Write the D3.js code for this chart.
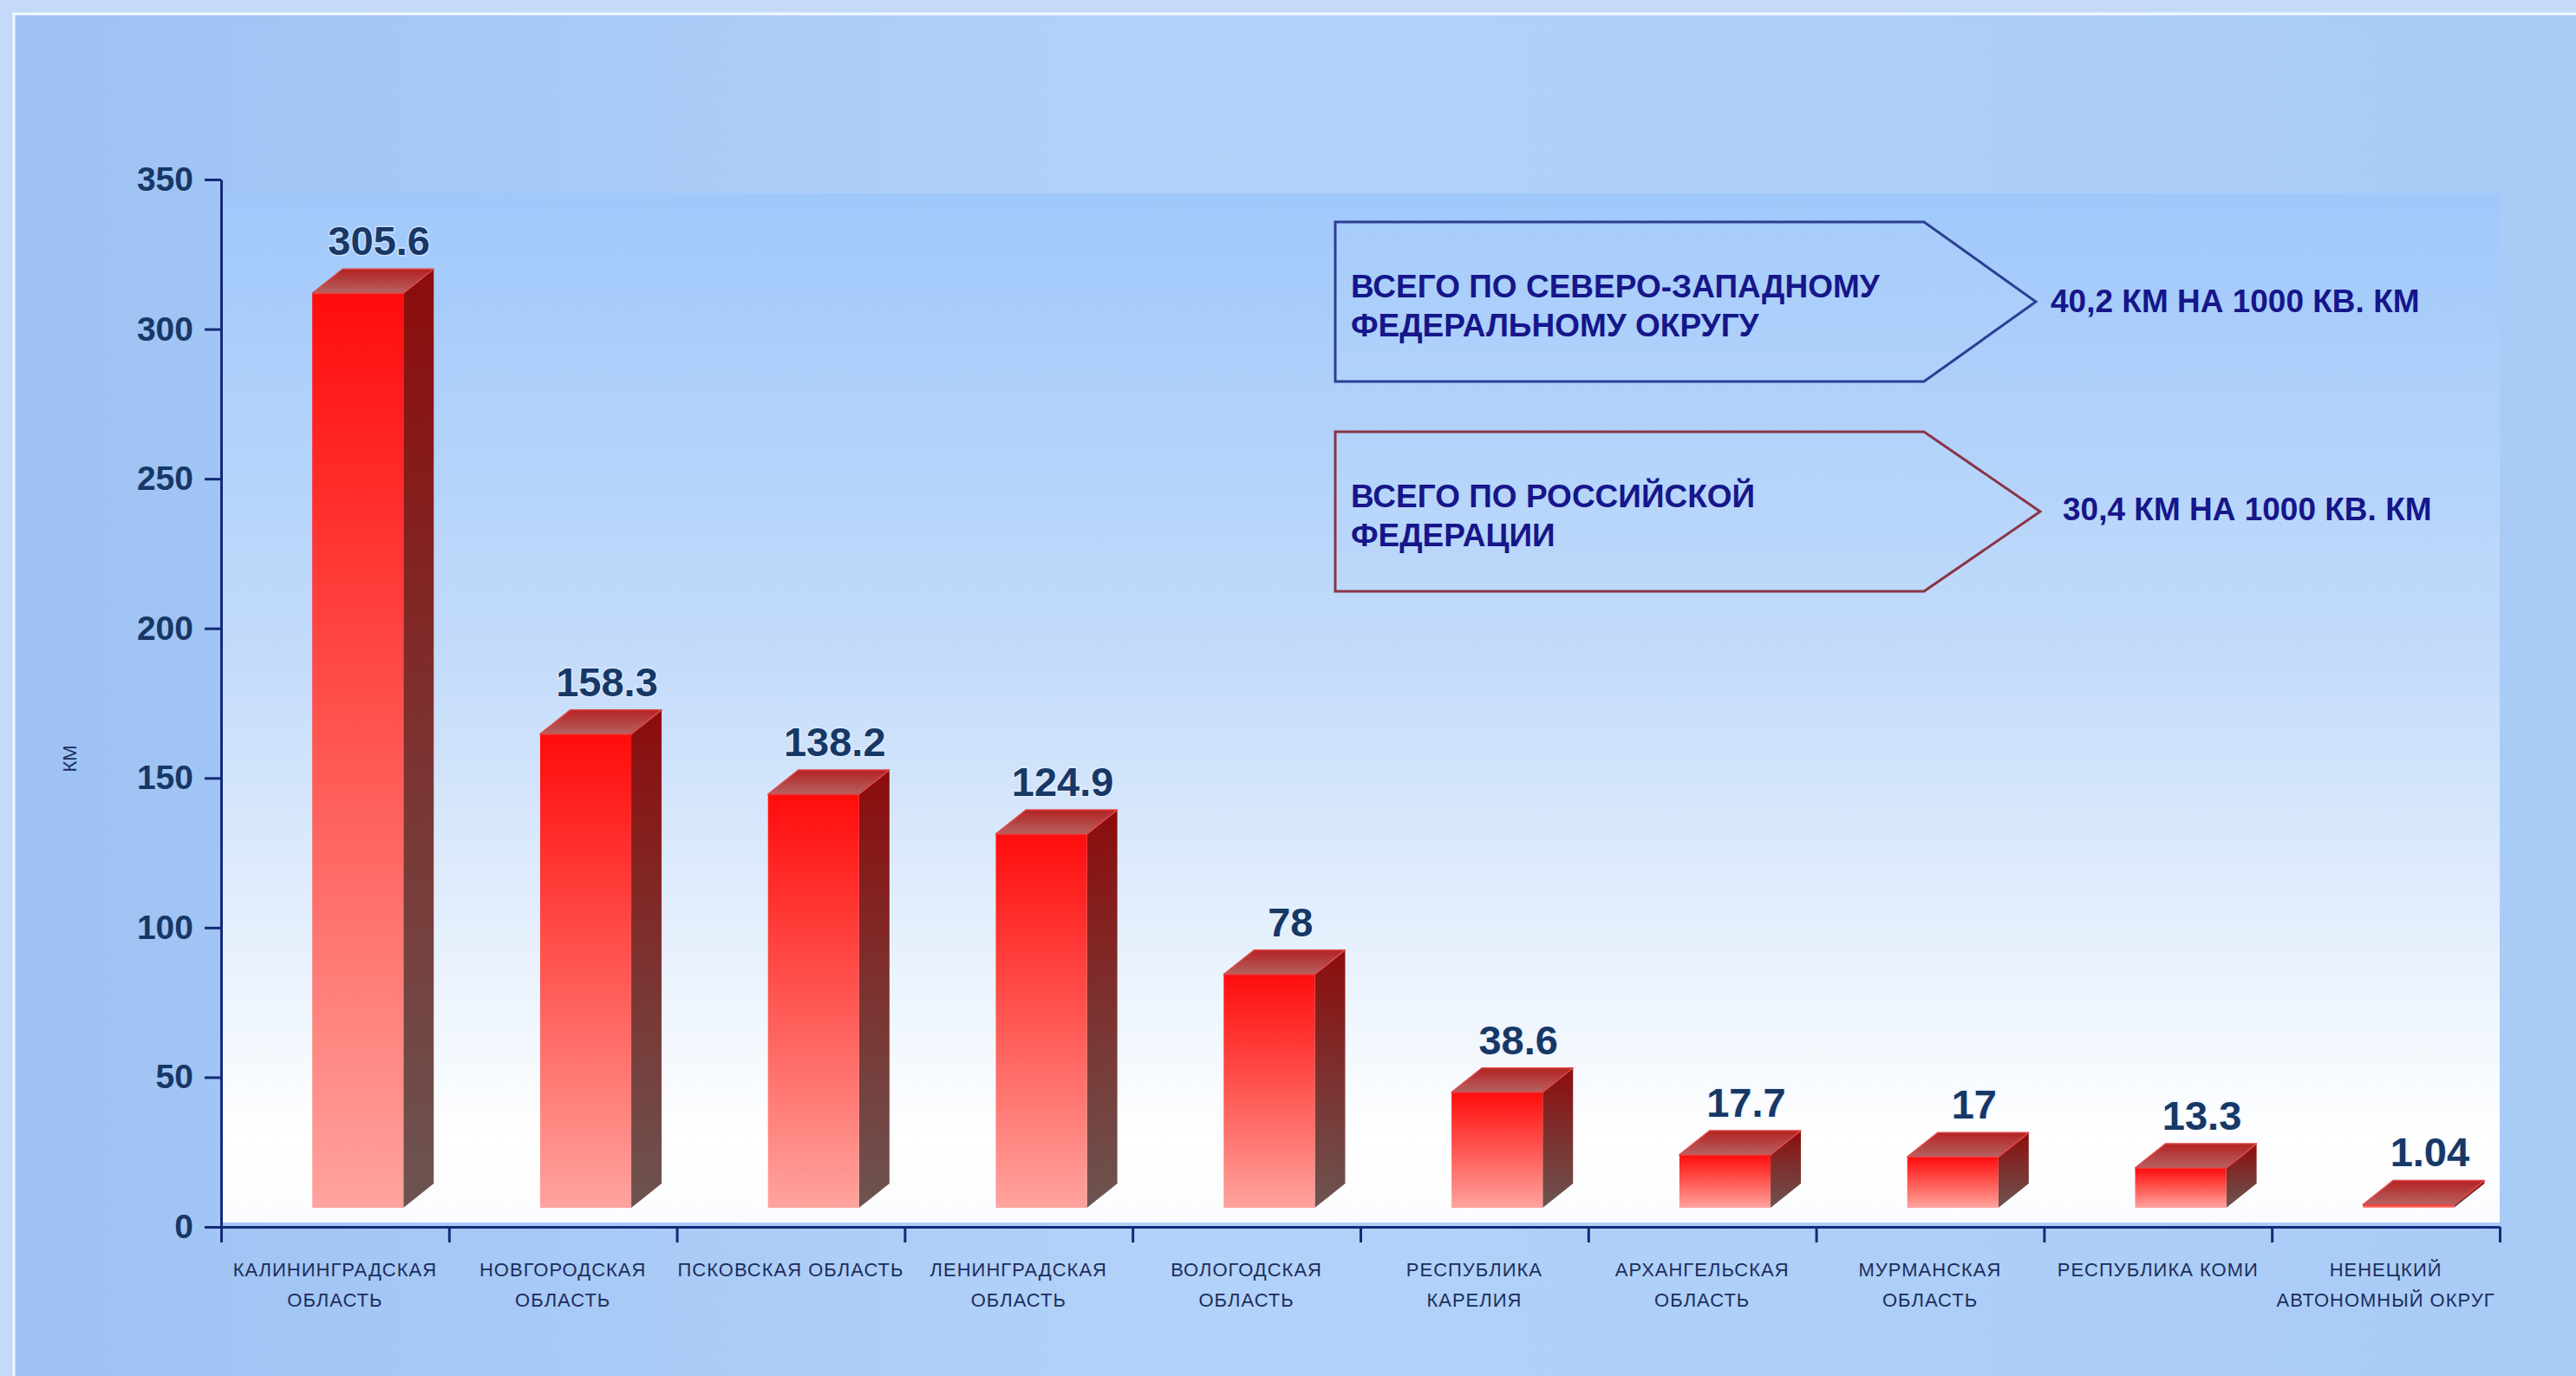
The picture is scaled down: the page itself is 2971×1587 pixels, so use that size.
<!DOCTYPE html>
<html>
<head>
<meta charset="utf-8">
<script src="https://cdn.jsdelivr.net/npm/d3@7"></script>
<style>
  html, body { margin: 0; padding: 0; background: #c4daf8; }
  svg { display: block; }
</style>
</head>
<body>
<div id="chart"></div>
<script>
// data
const categories = [
  "КАЛИНИНГРАДСКАЯ\nОБЛАСТЬ",
  "НОВГОРОДСКАЯ\nОБЛАСТЬ",
  "ПСКОВСКАЯ ОБЛАСТЬ",
  "ЛЕНИНГРАДСКАЯ\nОБЛАСТЬ",
  "ВОЛОГОДСКАЯ\nОБЛАСТЬ",
  "РЕСПУБЛИКА\nКАРЕЛИЯ",
  "АРХАНГЕЛЬСКАЯ\nОБЛАСТЬ",
  "МУРМАНСКАЯ\nОБЛАСТЬ",
  "РЕСПУБЛИКА КОМИ",
  "НЕНЕЦКИЙ\nАВТОНОМНЫЙ ОКРУГ"
];
const values = [305.6, 158.3, 138.2, 124.9, 78, 38.6, 17.7, 17, 13.3, 1.04];
const valueLabels = ["305.6", "158.3", "138.2", "124.9", "78", "38.6", "17.7", "17", "13.3", "1.04"];
const yTicks = [0, 50, 100, 150, 200, 250, 300, 350];
const yTitle = "КМ";

const noteLines = [
  ["ВСЕГО ПО СЕВЕРО-ЗАПАДНОМУ", "ФЕДЕРАЛЬНОМУ ОКРУГУ"],
  ["ВСЕГО ПО РОССИЙСКОЙ", "ФЕДЕРАЦИИ"]
];
const noteValues = ["40,2 КМ НА 1000 КВ. КМ", "30,4 КМ НА 1000 КВ. КМ"];

const WIDTH = 2971, HEIGHT = 1587;
const PLOT = { left: 255, right: 2883, top: 207, bottom: 1415 };
const DX = 35, DY = 28, LIFT = 22;   // 3d depth of bars
const NAVY = "#152a78";
const LABEL = "#173866";
const FONT = "'Liberation Sans', Arial, sans-serif";

const svg = d3.select("#chart")
  .append("svg")
  .attr("width", WIDTH)
  .attr("height", HEIGHT)
  .attr("viewBox", `0 0 ${WIDTH} ${HEIGHT}`);

const defs = svg.append("defs");

function linGrad(id, x2, y2, stops) {
  const g = defs.append("linearGradient").attr("id", id)
    .attr("x1", 0).attr("y1", 0).attr("x2", x2).attr("y2", y2);
  stops.forEach(s => g.append("stop").attr("offset", s[0]).attr("stop-color", s[1]));
}
linGrad("bgGrad", 1, 0, [[0, "#9dc2f3"], [0.45, "#b3d2f9"], [1, "#a8cbf6"]]);
linGrad("plotGrad", 0, 1, [[0, "#9fc8fb"], [0.45, "#c3dbfa"], [0.75, "#e9f2fd"], [0.92, "#ffffff"], [1, "#fbfcff"]]);
linGrad("frontGrad", 0, 1, [[0, "#ff0c0c"], [0.5, "#ff5752"], [1, "#ffa39e"]]);
linGrad("sideGrad", 0, 1, [[0, "#8c0c0c"], [0.5, "#7c3230"], [1, "#6c5450"]]);
linGrad("topGrad", 0, 1, [[0, "#b42222"], [1, "#b66262"]]);

// background
svg.append("rect").attr("width", WIDTH).attr("height", HEIGHT).attr("fill", "#c4daf8");
svg.append("rect")
  .attr("x", 16).attr("y", 16)
  .attr("width", WIDTH).attr("height", HEIGHT)
  .attr("fill", "url(#bgGrad)")
  .attr("stroke", "#f4f9ff")
  .attr("stroke-width", 3);

// scales
const x = d3.scaleBand()
  .domain(categories)
  .range([PLOT.left, PLOT.right])
  .padding(0);

const y = d3.scaleLinear()
  .domain([0, 350])
  .range([PLOT.bottom, PLOT.top]);

const xEdges = d3.scaleLinear()
  .domain([0, categories.length])
  .range([PLOT.left, PLOT.right]);

// plot area
svg.append("rect")
  .attr("x", PLOT.left)
  .attr("y", 223)
  .attr("width", PLOT.right - PLOT.left)
  .attr("height", PLOT.bottom - 5 - 223)
  .attr("fill", "url(#plotGrad)");

// bars
const bw = x.bandwidth();
const fw = bw * 0.4;
const bars = svg.append("g")
  .selectAll("g")
  .data(values)
  .join("g");

const fx = (d, i) => x(categories[i]) + bw * 0.4;
const yTop = d => y(d) - LIFT;
const yBot = y(0) - LIFT;

bars.append("polygon")
  .attr("points", (d, i) => {
    const r = fx(d, i) + fw;
    return [[r, yTop(d)], [r + DX, yTop(d) - DY], [r + DX, yBot - DY], [r, yBot]].join(" ");
  })
  .attr("fill", "url(#sideGrad)");

bars.append("rect")
  .attr("x", fx)
  .attr("y", d => yTop(d))
  .attr("width", fw)
  .attr("height", d => Math.max(0.5, yBot - yTop(d)))
  .attr("fill", "url(#frontGrad)");

bars.append("polygon")
  .attr("points", (d, i) => {
    const l = fx(d, i), t = yTop(d);
    return [[l, t], [l + DX, t - DY], [l + fw + DX, t - DY], [l + fw, t]].join(" ");
  })
  .attr("fill", "url(#topGrad)")
  .attr("stroke", "#e04848")
  .attr("stroke-width", 1.5)
  .attr("stroke-linejoin", "round");

// value labels
bars.append("text")
  .attr("x", (d, i) => fx(d, i) + fw / 2 + DX * 0.7)
  .attr("y", d => yTop(d) - DY - 16)
  .attr("text-anchor", "middle")
  .style("font-family", FONT)
  .style("font-weight", "bold")
  .style("font-size", "47px")
  .attr("fill", LABEL)
  .attr("stroke", "#e6f1ff")
  .attr("stroke-width", 3)
  .attr("stroke-opacity", 0.6)
  .attr("paint-order", "stroke")
  .text((d, i) => valueLabels[i]);

// axes
const yAxis = svg.append("g")
  .attr("transform", `translate(${PLOT.left},0)`)
  .call(d3.axisLeft(y).tickValues(yTicks).tickSize(19).tickSizeOuter(0).tickPadding(13));

const xAxis = svg.append("g")
  .attr("transform", `translate(0,${PLOT.bottom})`)
  .call(d3.axisBottom(xEdges).ticks(categories.length).tickSize(18).tickSizeOuter(0).tickFormat(""));

[yAxis, xAxis].forEach(a => {
  a.select(".domain").attr("stroke", NAVY).attr("stroke-width", 3);
  a.selectAll(".tick line").attr("stroke", NAVY).attr("stroke-width", 3);
});

yAxis.selectAll(".tick text")
  .style("font-family", FONT)
  .style("font-weight", "bold")
  .style("font-size", "39px")
  .attr("fill", LABEL);

// category labels
const catLabels = svg.append("g")
  .selectAll("text")
  .data(categories)
  .join("text")
  .attr("x", d => x(d) + bw / 2)
  .attr("y", 1472)
  .attr("text-anchor", "middle")
  .style("font-family", FONT)
  .style("font-size", "22px")
  .style("letter-spacing", "1px")
  .attr("fill", "#1c2d5c");

catLabels.selectAll("tspan")
  .data(d => d.split("\n"))
  .join("tspan")
  .attr("x", function() { return d3.select(this.parentNode).attr("x"); })
  .attr("dy", (d, i) => i === 0 ? 0 : 35)
  .text(d => d);

// y axis title
svg.append("text")
  .attr("transform", "rotate(-90)")
  .attr("x", -875)
  .attr("y", 88)
  .attr("text-anchor", "middle")
  .style("font-family", FONT)
  .style("font-size", "22px")
  .attr("fill", "#1c2d5c")
  .text(yTitle);

// notes
const notes = [
  { top: 256, bottom: 440, tipX: 2348, stroke: "#2c3f92", valueX: 2365, valueY: 360 },
  { top: 498, bottom: 682, tipX: 2353, stroke: "#8a3446", valueX: 2379, valueY: 600 }
];
const noteLeft = 1540, noteRight = 2219;

notes.forEach((n, i) => {
  const mid = (n.top + n.bottom) / 2;
  svg.append("polygon")
    .attr("points", [[noteLeft, n.top], [noteRight, n.top], [n.tipX, mid], [noteRight, n.bottom], [noteLeft, n.bottom]].join(" "))
    .attr("fill", "#b9d6fb")
    .attr("fill-opacity", 0.25)
    .attr("stroke", n.stroke)
    .attr("stroke-width", 3);

  svg.append("text")
    .attr("x", noteLeft + 18)
    .attr("y", mid - 5)
    .style("font-family", FONT)
    .style("font-weight", "bold")
    .style("font-size", "37px")
    .attr("fill", "#16168a")
    .selectAll("tspan")
    .data(noteLines[i])
    .join("tspan")
    .attr("x", noteLeft + 18)
    .attr("dy", (d, j) => j === 0 ? 0 : 45)
    .text(d => d);

  svg.append("text")
    .attr("x", n.valueX)
    .attr("y", n.valueY)
    .style("font-family", FONT)
    .style("font-weight", "bold")
    .style("font-size", "37px")
    .attr("fill", "#16168a")
    .text(noteValues[i]);
});
</script>
</body>
</html>
